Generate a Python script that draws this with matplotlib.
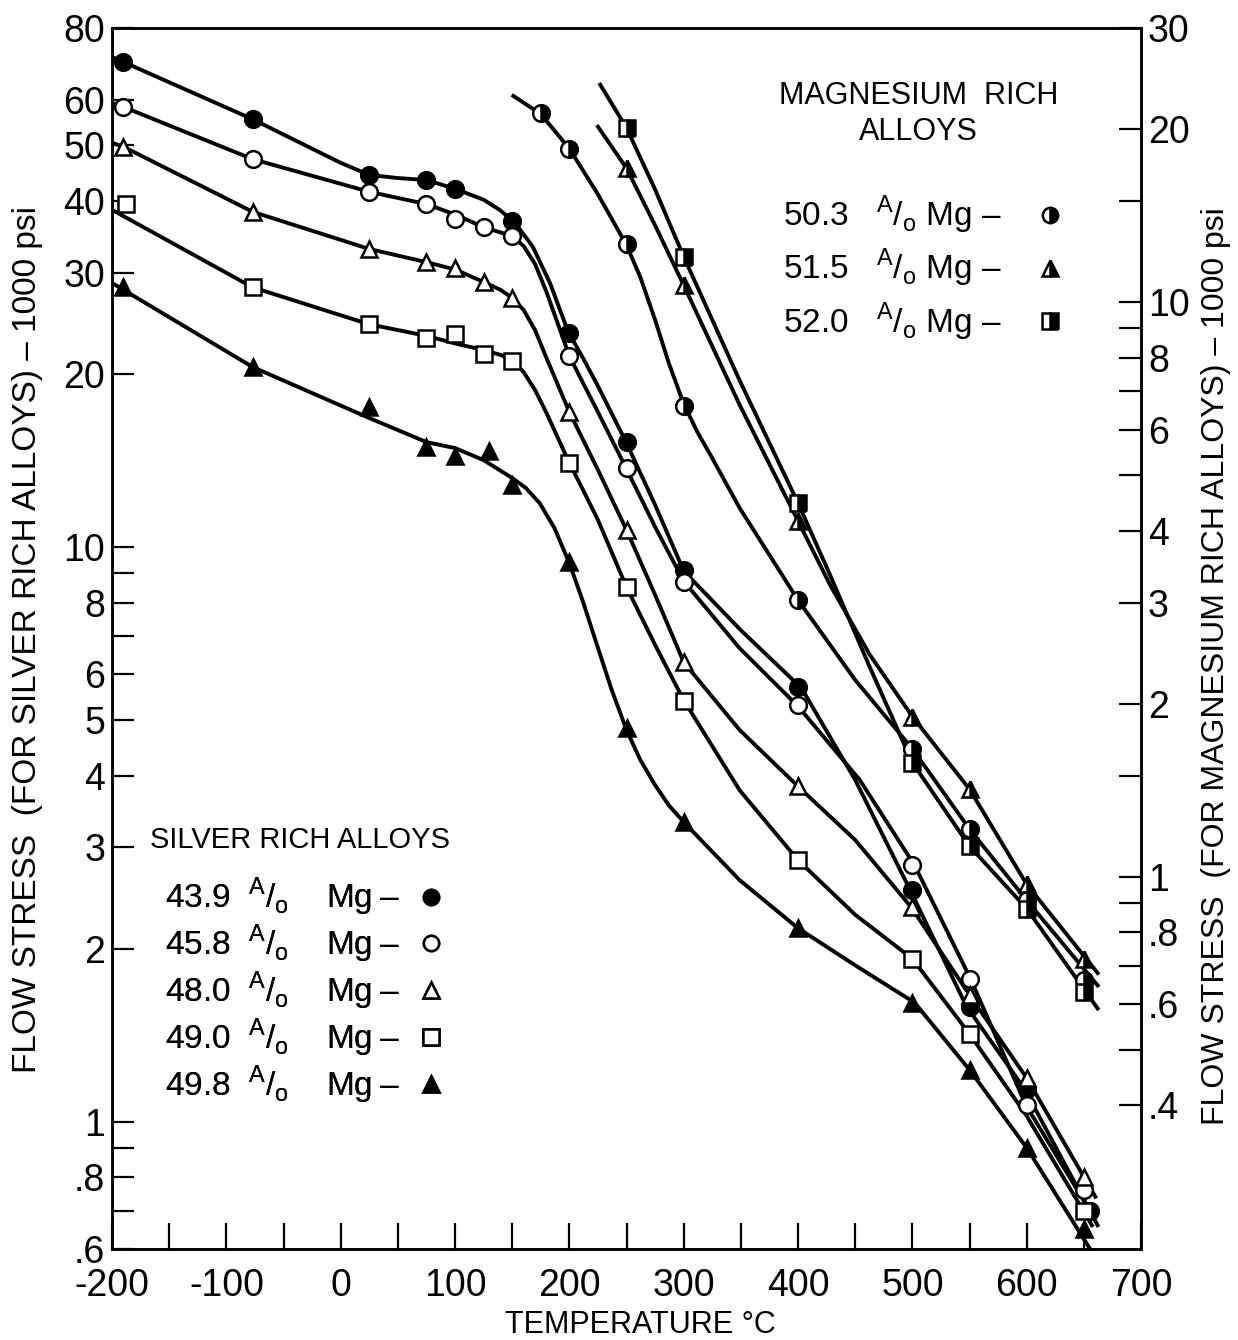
import matplotlib
matplotlib.use('Agg')
import matplotlib.pyplot as plt
from matplotlib.lines import Line2D
from matplotlib.ticker import FixedLocator, FixedFormatter, NullFormatter

plt.rcParams['font.family'] = ['Liberation Sans', 'DejaVu Sans']
plt.rcParams['mathtext.fontset'] = 'custom'
plt.rcParams['mathtext.rm'] = 'Liberation Sans'

# silver rich alloys (left axis) - temperature C, flow stress 1000 psi
# *_pt_* are the measured points, *_ln_* the faired curve read off the drawing
ag439_pt_t = [-190, -77, 25, 75, 100, 150, 200, 250, 300, 400, 500, 550, 600, 655]
ag439_pt_s = [69.8, 55.5, 44.4, 43.5, 42.0, 36.9, 23.6, 15.2, 9.1, 5.7, 2.53, 1.58, 1.14, 0.70]
ag439_ln_t = [-200, -190, -77, 0, 25, 50, 75, 100, 125, 139, 152, 168, 183, 199, 212, 225, 250, 275,
              300, 350, 403, 450, 498, 547, 598, 662]
ag439_ln_s = [71.2, 69.8, 55.5, 46.6, 44.4, 43.85, 43.5, 42.0, 40.2, 38.6, 36.75, 33.3, 28.8, 23.65,
              21.3, 19.05, 15.16, 11.83, 9.08, 7.16, 5.68, 3.93, 2.53, 1.59, 1.14, 0.66]

ag458_pt_t = [-190, -77, 25, 75, 100, 125, 150, 200, 250, 300, 400, 500, 550, 600, 650]
ag458_pt_s = [58.3, 47.3, 41.5, 39.5, 37.2, 36.0, 34.8, 21.5, 13.7, 8.7, 5.3, 2.79, 1.77, 1.07, 0.76]
ag458_ln_t = [-200, -190, -77, 25, 75, 100, 125, 150, 160, 170, 180, 190, 200, 212, 225, 250, 275,
              300, 349, 400, 454, 502, 551, 599, 659]
ag458_ln_s = [59.2, 58.3, 47.3, 41.5, 39.5, 37.9, 36.0, 34.76, 33.39, 31.07, 27.77, 24.43, 21.48,
              19.28, 17.17, 13.66, 10.83, 8.72, 6.66, 5.28, 3.93, 2.79, 1.77, 1.07, 0.68]

ag480_pt_t = [-190, -77, 25, 75, 100, 125, 150, 200, 250, 300, 400, 500, 550, 600, 650]
ag480_pt_s = [49.7, 38.3, 33.0, 31.3, 30.6, 28.9, 27.1, 17.2, 10.7, 6.3, 3.83, 2.36, 1.66, 1.19, 0.80]
ag480_ln_t = [-200, -190, -77, 25, 75, 100, 125, 140, 150, 160, 170, 180, 190, 200, 212, 225, 250,
              275, 300, 349, 400, 450, 499, 550, 600, 660]
ag480_ln_s = [50.5, 49.7, 38.3, 33.0, 31.3, 30.4, 28.91, 28.0, 27.12, 25.84, 23.84, 21.31, 19.13,
              17.17, 15.35, 13.61, 10.70, 8.25, 6.30, 4.80, 3.83, 3.09, 2.36, 1.66, 1.19, 0.74]

ag490_pt_t = [-188, -77, 25, 75, 100, 125, 150, 200, 250, 300, 400, 500, 550, 650]
ag490_pt_s = [39.5, 28.3, 24.4, 23.1, 23.5, 21.7, 21.1, 14.0, 8.5, 5.4, 2.85, 1.92, 1.42, 0.70]
ag490_ln_t = [-200, -77, 25, 75, 100, 125, 140, 150, 160, 170, 180, 190, 200, 212, 225, 250, 275,
              300, 349, 400, 450, 500, 550, 599, 657]
ag490_ln_s = [38.6, 28.3, 24.4, 23.3, 22.6, 22.01, 21.58, 21.14, 20.15, 18.75, 17.10, 15.47, 14.00,
              12.56, 11.14, 8.51, 6.75, 5.41, 3.77, 2.85, 2.29, 1.92, 1.42, 1.03, 0.66]

ag498_pt_t = [-190, -77, 25, 75, 100, 130, 150, 200, 250, 300, 400, 500, 550, 600, 650]
ag498_pt_s = [28.3, 20.6, 17.5, 14.9, 14.4, 14.7, 12.8, 9.4, 4.84, 3.32, 2.17, 1.61, 1.23, 0.90, 0.65]
ag498_ln_t = [-200, -77, 25, 75, 100, 125, 150, 162, 174, 187, 200, 212, 225, 237, 250, 262, 275,
              287, 300, 349, 400, 450, 502, 550, 600, 655]
ag498_ln_s = [28.79, 20.56, 16.76, 15.22, 14.86, 14.16, 13.18, 12.66, 11.92, 10.78, 9.37, 8.02, 6.67,
              5.64, 4.80, 4.26, 3.85, 3.55, 3.32, 2.63, 2.17, 1.87, 1.61, 1.23, 0.90, 0.602]

# magnesium rich alloys (right axis)
mg503_pt_t = [175, 200, 250, 300, 400, 500, 550, 600, 650]
mg503_pt_s = [21.3, 18.5, 12.6, 6.6, 3.03, 1.67, 1.21, 0.91, 0.66]
mg503_ln_t = [151, 175, 200, 225, 250, 262, 275, 287, 300, 312, 325, 337, 349, 375, 400, 450, 500,
              550, 600, 662]
mg503_ln_s = [22.85, 21.25, 18.5, 15.4, 12.57, 11.06, 9.31, 7.83, 6.65, 5.94, 5.35, 4.84, 4.38,
              3.63, 3.03, 2.20, 1.67, 1.21, 0.91, 0.647]

mg515_pt_t = [250, 300, 400, 500, 550, 600, 650]
mg515_pt_s = [17.1, 10.7, 4.16, 1.90, 1.42, 0.97, 0.72]
mg515_ln_t = [225, 250, 275, 300, 349, 400, 428, 463, 500, 550, 600, 662]
mg515_ln_s = [20.2, 17.1, 13.6, 10.7, 6.62, 4.16, 3.22, 2.43, 1.90, 1.42, 0.97, 0.68]

mg520_pt_t = [250, 300, 400, 500, 550, 600, 650]
mg520_pt_s = [20.1, 12.0, 4.47, 1.58, 1.13, 0.88, 0.63]
mg520_ln_t = [227, 250, 275, 300, 349, 400, 428, 463, 500, 550, 600, 662]
mg520_ln_s = [23.9, 20.1, 15.7, 12.0, 7.3, 4.47, 3.35, 2.31, 1.58, 1.13, 0.88, 0.59]

ag_labels = ['43.9', '45.8', '48.0', '49.0', '49.8']
mg_labels = ['50.3', '51.5', '52.0']

left_ticks = [0.6, 0.8, 1, 2, 3, 4, 5, 6, 8, 10, 20, 30, 40, 50, 60, 80]
left_ticklabels = ['.6', '.8', '1', '2', '3', '4', '5', '6', '8', '10', '20', '30', '40', '50', '60', '80']
left_minor = [0.7, 0.9, 7, 9]
right_ticks = [0.4, 0.6, 0.8, 1, 2, 3, 4, 6, 8, 10, 20, 30]
right_ticklabels = ['.4', '.6', '.8', '1', '2', '3', '4', '6', '8', '10', '20', '30']
right_minor = [0.5, 0.7, 0.9, 1.5, 5, 7, 9, 15]
x_ticks = [-200, -100, 0, 100, 200, 300, 400, 500, 600, 700]
x_ticklabels = ['-200', '-100', '0', '100', '200', '300', '400', '500', '600', '700']
x_minor = [-150, -50, 50, 150, 250, 350, 450, 550, 650]

fig = plt.figure(figsize=(12.38, 13.4), dpi=100)
ax = fig.add_axes([0.0905, 0.0679, 0.8312, 0.9112])
ax2 = ax.twinx()

lw = 2.8
ms = 12
mew = 1.8

ag = [
    (ag439_ln_t, ag439_ln_s, ag439_pt_t, ag439_pt_s, 'o', 'black'),
    (ag458_ln_t, ag458_ln_s, ag458_pt_t, ag458_pt_s, 'o', 'white'),
    (ag480_ln_t, ag480_ln_s, ag480_pt_t, ag480_pt_s, '^', 'white'),
    (ag490_ln_t, ag490_ln_s, ag490_pt_t, ag490_pt_s, 's', 'white'),
    (ag498_ln_t, ag498_ln_s, ag498_pt_t, ag498_pt_s, '^', 'black'),
]
for lt, ls_, pt, ps, m, fc in ag:
    ax.plot(lt, ls_, color='black', lw=lw, zorder=2, solid_joinstyle='round')
    ax.plot(pt, ps, ls='none', marker=m, ms=ms, mfc=fc, mec='black', mew=mew, zorder=3)

mg = [
    (mg503_ln_t, mg503_ln_s, mg503_pt_t, mg503_pt_s, 'o'),
    (mg515_ln_t, mg515_ln_s, mg515_pt_t, mg515_pt_s, '^'),
    (mg520_ln_t, mg520_ln_s, mg520_pt_t, mg520_pt_s, 's'),
]
for lt, ls_, pt, ps, m in mg:
    ax2.plot(lt, ls_, color='black', lw=lw, zorder=2, solid_joinstyle='round')
    ax2.plot(pt, ps, ls='none', marker=m, ms=ms, fillstyle='right', mfc='black',
             mfcalt='white', mec='black', mew=mew, zorder=3)

ax.set_xlim(-200, 700)
ax.set_yscale('log')
ax.set_ylim(0.6, 80)
ax2.set_yscale('log')
ax2.set_ylim(0.6 * 3 / 8, 80 * 3 / 8)

ax.xaxis.set_major_locator(FixedLocator(x_ticks))
ax.xaxis.set_major_formatter(FixedFormatter(x_ticklabels))
ax.xaxis.set_minor_locator(FixedLocator(x_minor))
ax.yaxis.set_major_locator(FixedLocator(left_ticks))
ax.yaxis.set_major_formatter(FixedFormatter(left_ticklabels))
ax.yaxis.set_minor_locator(FixedLocator(left_minor))
ax.yaxis.set_minor_formatter(NullFormatter())
ax2.yaxis.set_major_locator(FixedLocator(right_ticks))
ax2.yaxis.set_major_formatter(FixedFormatter(right_ticklabels))
ax2.yaxis.set_minor_locator(FixedLocator(right_minor))
ax2.yaxis.set_minor_formatter(NullFormatter())

ax.tick_params(axis='x', which='both', direction='in', length=19, width=1.6, labelsize=27, pad=14, top=False)
ax.tick_params(axis='y', which='both', direction='in', length=16, width=1.6, labelsize=27, pad=5, right=False)
ax2.tick_params(axis='y', which='both', direction='in', length=16, width=1.6, labelsize=27, pad=5)
for a in (ax, ax2):
    for sp in a.spines.values():
        sp.set_linewidth(1.8)

ax.set_xlabel('TEMPERATURE \u00b0C', fontsize=22)
ax.xaxis.set_label_coords(0.513, -0.050)
ax.set_ylabel('FLOW STRESS  (FOR SILVER RICH ALLOYS) \u2013 1000 psi', fontsize=24)
ax.yaxis.set_label_coords(-0.067, 0.499)
ax2.set_ylabel('FLOW STRESS  (FOR MAGNESIUM RICH ALLOYS) \u2013 1000 psi', fontsize=23, rotation=90)
ax2.yaxis.set_label_coords(1.058, 0.477)

ao = r'$^{\mathrm{A}}/_{\mathrm{o}}$'

# silver rich key
ax.text(0.037, 0.335, 'SILVER RICH ALLOYS', transform=ax.transAxes, fontsize=21,
        ha='left', va='center')
ag_handles = [Line2D([], [], ls='none', marker=m, ms=11, mfc=fc, mec='black', mew=mew)
              for _, _, _, _, m, fc in ag]
leg1 = ax.legend(ag_handles, [f'{c}  {ao}    Mg\u2009\u2013' for c in ag_labels],
                 loc='upper left', bbox_to_anchor=(0.0515, 0.3055), borderaxespad=0,
                 frameon=False, markerfirst=False, fontsize=24,
                 handlelength=0.7, handletextpad=0.6, labelspacing=0.14, borderpad=0)
ax.add_artist(leg1)

# magnesium rich key
ax2.text(0.784, 0.9296, 'MAGNESIUM  RICH\nALLOYS', transform=ax2.transAxes, fontsize=22,
         ha='center', va='center', multialignment='center', linespacing=1.25)
mg_handles = [Line2D([], [], ls='none', marker=m, ms=11, fillstyle='right', mfc='black',
                     mfcalt='white', mec='black', mew=mew) for _, _, _, _, m in mg]
leg2 = ax2.legend(mg_handles, [f'{c}   {ao} Mg \u2013' for c in mg_labels],
                  loc='upper right', bbox_to_anchor=(0.923, 0.864), borderaxespad=0,
                  frameon=False, markerfirst=False, fontsize=24,
                  handlelength=0.7, handletextpad=1.1, labelspacing=0.33, borderpad=0)

fig.savefig('out.png', dpi=100)
